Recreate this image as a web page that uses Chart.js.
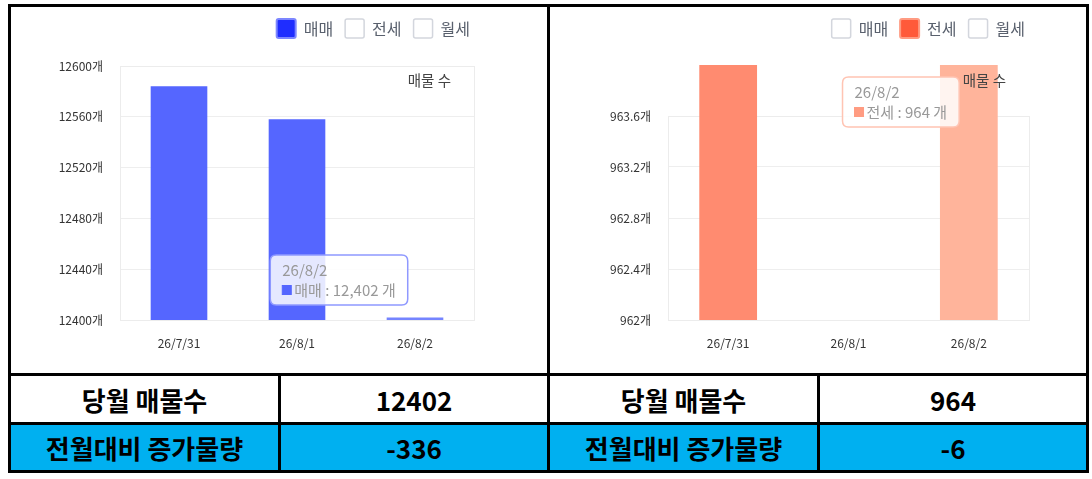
<!DOCTYPE html>
<html><head><meta charset="utf-8">
<script src="https://cdn.jsdelivr.net/npm/chart.js@4"></script>
<style>
html,body{margin:0;padding:0;background:#fff;width:1092px;height:479px;overflow:hidden;font-family:"Noto Sans CJK KR",sans-serif;}
.box{position:absolute;box-sizing:border-box;border:3px solid #000;}
.cell{position:absolute;box-sizing:border-box;border:3px solid #000;display:flex;align-items:center;justify-content:center;font-weight:700;font-size:26px;color:#000;white-space:nowrap;}
.blue{background:#00b0f0;}
.cw{position:absolute;}
</style></head><body>
<div class="box" style="left:8px;top:4px;width:542px;height:372px"></div>
<div class="box" style="left:547px;top:4px;width:542px;height:372px"></div>
<div class="cw" style="left:11px;top:7px;width:536px;height:366px"><canvas id="c1" width="536" height="366"></canvas></div>
<div class="cw" style="left:550px;top:7px;width:536px;height:366px"><canvas id="c2" width="536" height="366"></canvas></div>
<div id="tbl"></div>
<script>
// ---- data ----
const categories = ['26/7/31', '26/8/1', '26/8/2'];
const seriesNames = ['매매', '전세', '월세'];
const saleValues = [12584, 12558, 12402];      // 매매
const jeonseValues = [964, null, 964];         // 전세
const saleAxis = [12400, 12600, 40];           // min, max, step
const jeonseAxis = [962, 963.6, 0.4];
const cornerTitle = '매물 수';
const unit = '개';
const tableLabels = ['당월 매물수', '전월대비 증가물량'];
const saleSummary = [12402, -336];
const jeonseSummary = [964, -6];
const highlightIndex = 2;

Chart.defaults.font.family = '"Noto Sans CJK KR", sans-serif';
Chart.defaults.animation = false;

Chart.Tooltip.positioners.anchored = function(items) {
  if (!items.length) return false;
  const el = items[0].element;
  const an = this.chart.$anchor;
  return { x: el.x + an.dx, y: this.chart.chartArea.top + an.dy };
};

const panelPlugin = {
  id: 'panel',
  beforeDatasetsDraw(chart) {
    const {ctx, chartArea: a} = chart;
    ctx.save();
    ctx.strokeStyle = '#ececec'; ctx.lineWidth = 1;
    ctx.strokeRect(Math.round(a.left) + 0.5, Math.round(a.top) + 0.5, Math.round(a.right - a.left), Math.round(a.bottom - a.top));
    ctx.restore();
  },
  afterDatasetsDraw(chart) {
    const {ctx, chartArea: a} = chart;
    ctx.save();
    ctx.font = '14.5px "Noto Sans CJK KR"';
    ctx.fillStyle = '#444'; ctx.textAlign = 'right'; ctx.textBaseline = 'middle';
    ctx.fillText(cornerTitle, a.right - 23, 73);
    ctx.restore();
  }
};

function fmtTick(v) { return (+v.toFixed(2)) + unit; }

function makeChart(id, o) {
  const datasets = seriesNames.map((name, i) => {
    const active = i === o.activeSeries;
    return {
      label: name,
      data: active ? o.values : [],
      backgroundColor: ctx => ctx.dataIndex === highlightIndex ? o.light : o.base,
      clip: o.clip,
      legendFill: active ? o.legendFill : '#ffffff',
      legendStroke: active ? o.legendStroke : '#d3d6dd',
      legendWidth: active ? 2 : 1.5
    };
  });
  const chart = new Chart(document.getElementById(id), {
    type: 'bar',
    data: { labels: categories, datasets },
    plugins: [panelPlugin],
    options: {
      responsive: false,
      layout: { padding: { top: 0, left: 0, right: o.padRight, bottom: 23 } },
      datasets: { bar: { grouped: false, barPercentage: 0.6, categoryPercentage: 0.8 } },
      scales: {
        x: {
          grid: { display: false, drawTicks: false },
          border: { color: '#ececec' },
          ticks: { padding: 16, color: '#333', font: { size: 12 } },
          afterFit: s => { s.height = 30; }
        },
        xTop: {
          position: 'top', type: 'category', display: true,
          grid: { display: false }, border: { display: false }, ticks: { display: false },
          afterFit: s => { s.height = Math.max(0, o.plotTop - s.chart.legend.height); }
        },
        y: {
          min: o.axis[0], max: o.axis[1],
          grid: { color: '#eeeeee', drawTicks: false },
          border: { color: '#ececec' },
          ticks: { stepSize: o.axis[2], padding: 17, color: '#333', font: { size: 12 }, callback: fmtTick },
          afterFit: s => { s.width = o.yWidth; }
        },
        yRight: {
          position: 'right', type: 'linear', display: true,
          grid: { display: false }, border: { display: false }, ticks: { display: false },
          afterFit: s => { s.width = 8; }
        }
      },
      plugins: {
        legend: {
          position: 'top', align: 'end',
          labels: {
            boxWidth: 19, boxHeight: 19, padding: 12, color: '#59606d',
            font: { size: 16 },
            generateLabels: ch => ch.data.datasets.map((ds, i) => ({
              text: ds.label, fillStyle: ds.legendFill, strokeStyle: ds.legendStroke,
              lineWidth: ds.legendWidth, hidden: false, datasetIndex: i,
              borderRadius: 2, fontColor: '#59606d'
            })),
            useBorderRadius: true, borderRadius: 2
          },
          onClick: () => {}
        },
        tooltip: {
          position: 'anchored', xAlign: 'center', yAlign: 'center',
          caretSize: 0, caretPadding: 0, cornerRadius: 6,
          backgroundColor: 'rgba(255,255,255,0.85)',
          borderColor: o.tipBorder, borderWidth: 1.5,
          titleColor: '#999', bodyColor: '#999',
          titleFont: { size: 15, weight: 'normal' }, bodyFont: { size: 15 },
          padding: { top: 6, bottom: 6, left: 12, right: 12 },
          titleMarginBottom: 2,
          displayColors: true, boxWidth: 9, boxHeight: 9, boxPadding: 1,
          multiKeyBackground: o.tipBox,
          filter: it => it.datasetIndex === o.activeSeries,
          callbacks: {
            title: items => items[0].label,
            label: it => `${it.dataset.label} : ${it.parsed.y.toLocaleString('en-US')} ${unit}`,
            labelColor: () => ({ borderColor: o.tipBox, backgroundColor: o.tipBox })
          }
        }
      }
    }
  });
  chart.$anchor = o.anchor;
  chart.tooltip.setActiveElements([{ datasetIndex: o.activeSeries, index: highlightIndex }], { x: 0, y: 0 });
  chart.update();
  return chart;
}

makeChart('c1', {
  values: saleValues, activeSeries: 0, axis: saleAxis,
  base: '#5566ff', light: '#7584ff',
  legendFill: '#1f2dff', legendStroke: '#7c86ff',
  tipBorder: '#8f99ff', tipBox: '#5566ff',
  padRight: 65, yWidth: 109, plotTop: 59, clip: undefined,
  anchor: { dx: -76, dy: 214 }
});
makeChart('c2', {
  values: jeonseValues, activeSeries: 1, axis: jeonseAxis,
  base: '#ff8b70', light: '#ffb49b',
  legendFill: '#ff5a3a', legendStroke: '#ff9b82',
  tipBorder: '#ffc4b3', tipBox: '#ff9c82',
  padRight: 49, yWidth: 118, plotTop: 109,
  clip: { left: false, top: false, right: false, bottom: 0 },
  anchor: { dx: -68, dy: -14 }
});

// ---- table ----
const tbl = document.getElementById('tbl');
const colX = [[8, 273], [278, 272], [547, 273], [817, 272]];
const rowY = [[373, 52], [422, 51]];
function addCell(text, c, r, blue) {
  const d = document.createElement('div');
  d.className = 'cell' + (blue ? ' blue' : '');
  d.style.left = colX[c][0] + 'px'; d.style.width = colX[c][1] + 'px';
  d.style.top = rowY[r][0] + 'px'; d.style.height = rowY[r][1] + 'px';
  d.textContent = text;
  tbl.appendChild(d);
}
tableLabels.forEach((lab, r) => {
  const blue = r === 1;
  addCell(lab, 0, r, blue);
  addCell(String(saleSummary[r]), 1, r, blue);
  addCell(lab, 2, r, blue);
  addCell(String(jeonseSummary[r]), 3, r, blue);
});
</script>
</body></html>
